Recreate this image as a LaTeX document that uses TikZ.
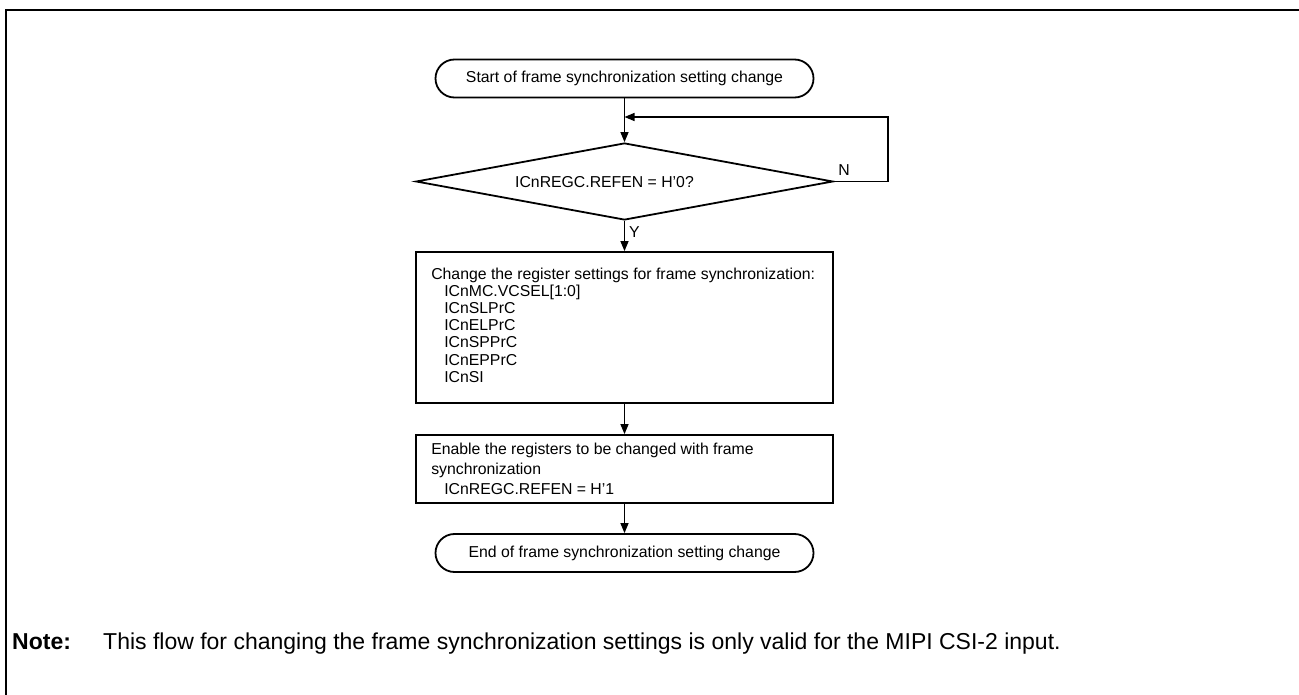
\documentclass[tikz,border=0pt]{standalone}
\usepackage{fontspec}
\setmainfont{Liberation Sans}
\usetikzlibrary{arrows.meta,shapes.geometric}
\begin{document}
\begin{tikzpicture}[x=1pt,y=-1pt,
  flow/.style={line width=1.3pt,-{Triangle[length=10pt,width=8pt]}},
  term/.style={draw,line width=1.8pt,rounded corners=19pt,minimum width=378pt,minimum height=38pt,inner sep=0pt,font=\fontsize{15.8}{17}\selectfont},
  box/.style={draw,line width=1.8pt,minimum width=417pt,inner sep=0pt},
  txt/.style={font=\fontsize{15.8}{17.2}\selectfont,inner sep=0pt,align=left},
  lbl/.style={font=\fontsize{15.8}{17}\selectfont,inner sep=0pt},
  notefont/.style={font=\fontsize{23}{27}\selectfont,inner sep=0pt}
]
\useasboundingbox (0,0) rectangle (1299,695);
\draw[line width=2.5pt] (6,695) -- (6,10) -- (1299,10);

\node[term] (start) at (624.5,78.5) {Start of frame synchronization setting change};
\node[draw,diamond,aspect=5.4,minimum width=417pt,minimum height=77pt,inner sep=0pt,line width=1.8pt] (dec) at (624.5,181.5) {};
\node[lbl] (dect) at (604.5,182) {ICnREGC.REFEN = H’0?};

\node[box,minimum height=151pt] (b1) at (624.5,327.5) {};
\node[txt,anchor=west,yshift=2.5pt] (b1t) at ([xshift=16pt]b1.west) {Change the register settings for frame synchronization:\\
\hspace*{13pt}ICnMC.VCSEL[1:0]\\
\hspace*{13pt}ICnSLPrC\\
\hspace*{13pt}ICnELPrC\\
\hspace*{13pt}ICnSPPrC\\
\hspace*{13pt}ICnEPPrC\\
\hspace*{13pt}ICnSI};

\node[box,minimum height=68pt] (b2) at (624.5,469) {};
\node[txt,anchor=west,font=\fontsize{15.8}{20}\selectfont] (b2t) at ([xshift=16pt]b2.west) {Enable the registers to be changed with frame\\
synchronization\\
\hspace*{13pt}ICnREGC.REFEN = H’1};

\node[term] (end) at (624.5,553) {End of frame synchronization setting change};

\coordinate (lp) at (888,117);
\draw[flow] (start.south) -- (dec.north);
\draw[flow] (dec.east) -- (dec.east -| lp) -- (lp) -- (lp -| dec.north);
\draw[flow] (dec.south) -- (b1.north);
\draw[flow] (b1.south) -- (b2.north);
\draw[flow] (b2.south) -- (end.north);

\node[lbl,anchor=west] (ylab) at (629,232) {Y};
\node[lbl] (nlab) at (844,170) {N};

\node[notefont,anchor=base west,font=\fontsize{23}{27}\selectfont\bfseries] (note) at (12,649) {Note:};
\node[notefont,anchor=base west] (notet) at (103,649) {This flow for changing the frame synchronization settings is only valid for the MIPI CSI-2 input.};
\end{tikzpicture}
\end{document}
